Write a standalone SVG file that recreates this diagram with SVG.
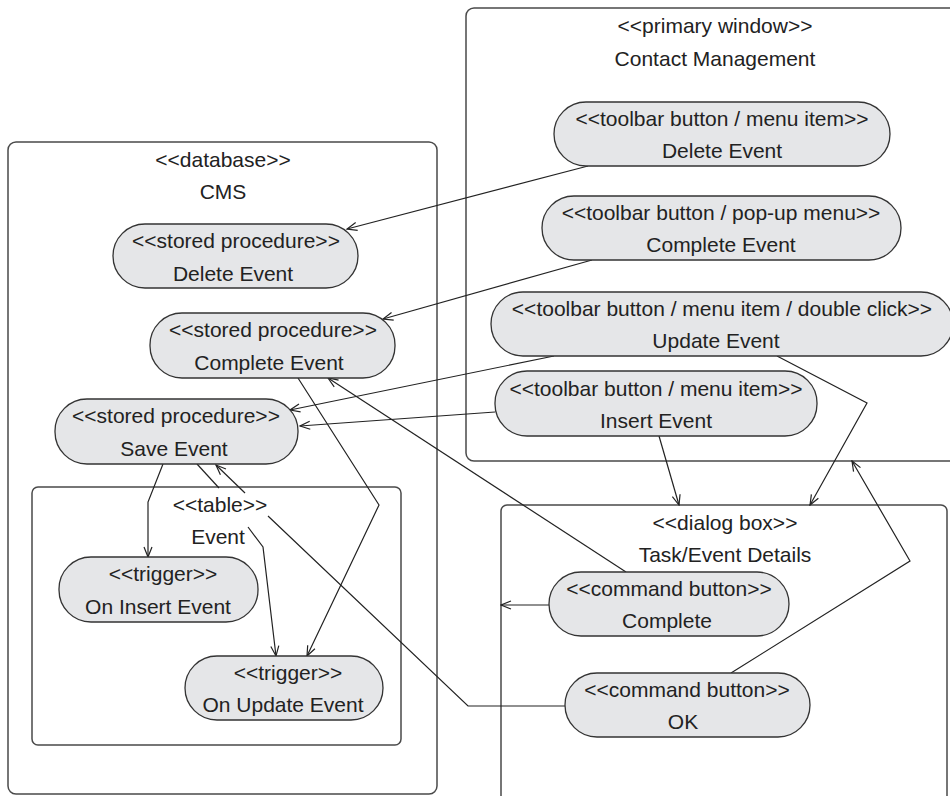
<svg xmlns="http://www.w3.org/2000/svg" width="950" height="796" viewBox="0 0 950 796">
  <style>
    .box { fill: none; stroke: #4a4a4a; stroke-width: 1.5; }
    .pill { fill: #e5e6e8; stroke: #333; stroke-width: 1.3; }
    .lbl { font-family: "Liberation Sans", Arial, sans-serif; font-size: 21px; fill: #222; text-anchor: middle; }
    .edge { fill: none; stroke: #222; stroke-width: 1.2; }
  </style>
  <defs>
    <marker id="open" viewBox="0 0 12 10" refX="11" refY="5" markerWidth="12" markerHeight="10" markerUnits="userSpaceOnUse" orient="auto">
      <path d="M1,1 L11,5 L1,9" fill="none" stroke="#222" stroke-width="1.2"/>
    </marker>
  </defs>
  <rect width="950" height="796" fill="#fff"/>

  <!-- containers -->
  <g id="primary-window">
    <rect class="box" x="466" y="8" width="500" height="453" rx="8"/>
    <text class="lbl" x="715" y="33">&lt;&lt;primary window&gt;&gt;</text>
    <text class="lbl" x="715" y="66">Contact Management</text>
  </g>
  <g id="database">
    <rect class="box" x="8" y="142" width="429" height="652" rx="8"/>
    <text class="lbl" x="223" y="167">&lt;&lt;database&gt;&gt;</text>
    <text class="lbl" x="223" y="199">CMS</text>
  </g>
  <g id="table-event">
    <rect class="box" x="32" y="487" width="369" height="258" rx="6"/>
    <text class="lbl" x="220" y="512">&lt;&lt;table&gt;&gt;</text>
    <text class="lbl" x="218" y="544">Event</text>
  </g>
  <g id="dialog-box">
    <rect class="box" x="501" y="505" width="446" height="310" rx="6"/>
    <text class="lbl" x="725" y="530">&lt;&lt;dialog box&gt;&gt;</text>
    <text class="lbl" x="725" y="562">Task/Event Details</text>
  </g>

  <!-- connectors -->
  <g id="connectors" class="edge">
    <path class="edge" d="M588,166 L347,229" marker-end="url(#open)"/>
    <path class="edge" d="M592,260 L383,319" marker-end="url(#open)"/>
    <path class="edge" d="M554,356 L290,410" marker-end="url(#open)"/>
    <path class="edge" d="M495,412 L300,426" marker-end="url(#open)"/>
    <path class="edge" d="M777,356 L867,403 L810,505" marker-end="url(#open)"/>
    <path class="edge" d="M659,436 L679,505" marker-end="url(#open)"/>
    <path class="edge" d="M731,673 L910,561 L852,461" marker-end="url(#open)"/>
    <path class="edge" d="M549,605 L501,605" marker-end="url(#open)"/>
    <path class="edge" d="M626,572 L328,378" marker-end="url(#open)"/>
    <path class="edge" d="M298,378 L379,505 L307,656" marker-end="url(#open)"/>
    <path class="edge" d="M163,464 L148,502 L148,557" marker-end="url(#open)"/>
    <path class="edge" d="M197,464 L219,488"/>
    <path class="edge" d="M248,527 L263,547 L276,656" marker-end="url(#open)"/>
    <path class="edge" d="M565,706 L468,706 L268,516"/>
    <path class="edge" d="M245,493 L216,465" marker-end="url(#open)"/>
  </g>

  <!-- primary window controls -->
  <g id="tb-delete-event">
    <rect class="pill" x="554" y="102" width="336" height="64" rx="32"/>
    <text class="lbl" x="722" y="126">&lt;&lt;toolbar button / menu item&gt;&gt;</text>
    <text class="lbl" x="722" y="158">Delete Event</text>
  </g>
  <g id="tb-complete-event">
    <rect class="pill" x="542" y="196" width="359" height="64" rx="32"/>
    <text class="lbl" x="721" y="220">&lt;&lt;toolbar button / pop-up menu&gt;&gt;</text>
    <text class="lbl" x="721" y="252">Complete Event</text>
  </g>
  <g id="tb-update-event">
    <rect class="pill" x="491" y="292" width="462" height="64" rx="32"/>
    <text class="lbl" x="722" y="316">&lt;&lt;toolbar button / menu item / double click&gt;&gt;</text>
    <text class="lbl" x="716" y="348">Update Event</text>
  </g>
  <g id="tb-insert-event">
    <rect class="pill" x="495" y="371" width="322" height="65" rx="32"/>
    <text class="lbl" x="656" y="396">&lt;&lt;toolbar button / menu item&gt;&gt;</text>
    <text class="lbl" x="656" y="428">Insert Event</text>
  </g>

  <!-- database procedures -->
  <g id="sp-delete-event">
    <rect class="pill" x="113" y="224" width="245" height="64" rx="32"/>
    <text class="lbl" x="236" y="248">&lt;&lt;stored procedure&gt;&gt;</text>
    <text class="lbl" x="233" y="281">Delete Event</text>
  </g>
  <g id="sp-complete-event">
    <rect class="pill" x="150" y="313" width="245" height="65" rx="32"/>
    <text class="lbl" x="273" y="337">&lt;&lt;stored procedure&gt;&gt;</text>
    <text class="lbl" x="269" y="370">Complete Event</text>
  </g>
  <g id="sp-save-event">
    <rect class="pill" x="55" y="399" width="243" height="65" rx="32"/>
    <text class="lbl" x="176" y="423">&lt;&lt;stored procedure&gt;&gt;</text>
    <text class="lbl" x="174" y="456">Save Event</text>
  </g>

  <!-- table triggers -->
  <g id="trg-insert-event">
    <rect class="pill" x="59" y="557" width="199" height="65" rx="32"/>
    <text class="lbl" x="163" y="581">&lt;&lt;trigger&gt;&gt;</text>
    <text class="lbl" x="158" y="614">On Insert Event</text>
  </g>
  <g id="trg-update-event">
    <rect class="pill" x="185" y="656" width="198" height="64" rx="32"/>
    <text class="lbl" x="288" y="680">&lt;&lt;trigger&gt;&gt;</text>
    <text class="lbl" x="283" y="712">On Update Event</text>
  </g>

  <!-- dialog buttons -->
  <g id="cb-complete">
    <rect class="pill" x="549" y="572" width="240" height="64" rx="32"/>
    <text class="lbl" x="669" y="596">&lt;&lt;command button&gt;&gt;</text>
    <text class="lbl" x="667" y="628">Complete</text>
  </g>
  <g id="cb-ok">
    <rect class="pill" x="565" y="673" width="245" height="64" rx="32"/>
    <text class="lbl" x="687" y="697">&lt;&lt;command button&gt;&gt;</text>
    <text class="lbl" x="683" y="729">OK</text>
  </g>
</svg>
